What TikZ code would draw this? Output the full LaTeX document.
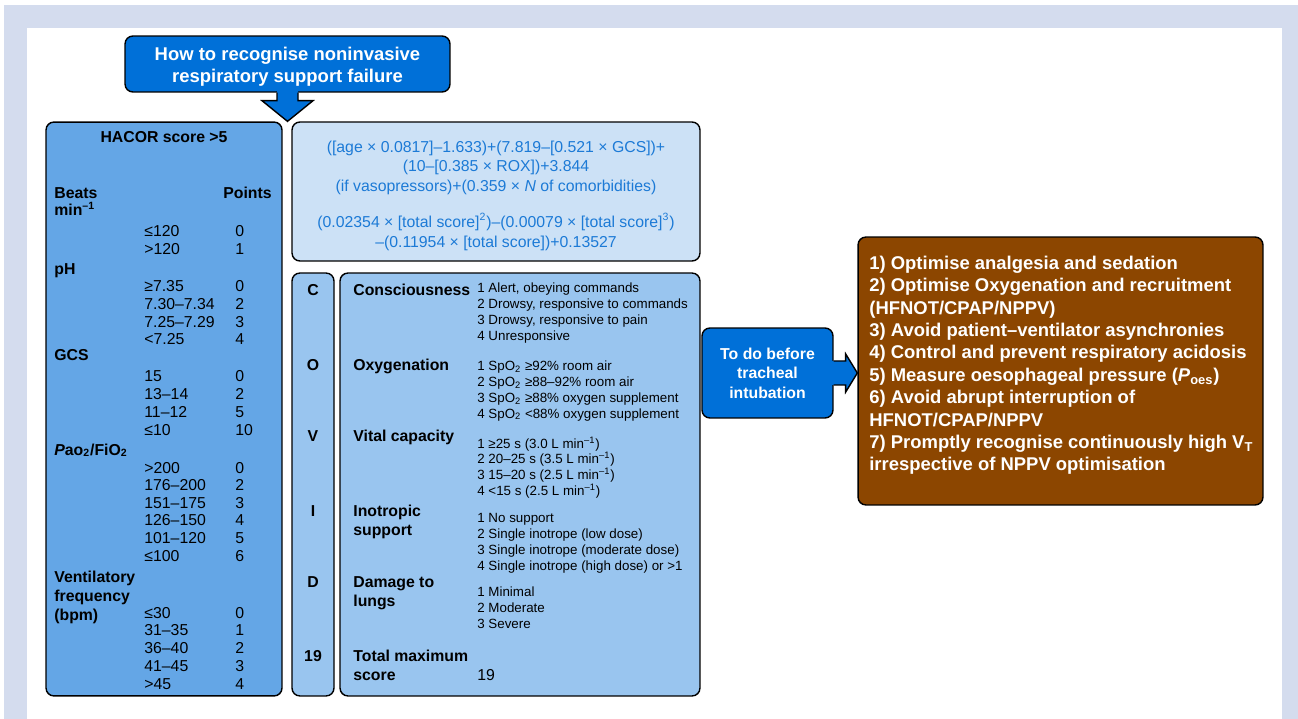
\documentclass[tikz,border=0pt]{standalone}
\usepackage{fontspec}
\setmainfont{Liberation Sans}
\usetikzlibrary{calc}

\definecolor{framebg}{RGB}{212,220,238}
\definecolor{deepblue}{RGB}{0,112,216}
\definecolor{hacorblue}{RGB}{100,166,230}
\definecolor{covidblue}{RGB}{153,197,239}
\definecolor{paleblue}{RGB}{204,225,246}
\definecolor{formulablue}{RGB}{28,122,214}
\definecolor{brownbox}{RGB}{140,70,0}

\begin{document}
\begin{tikzpicture}[x=0.02cm,y=-0.02cm,
  box node/.style={draw,thick,rounded corners=4.5pt,inner sep=0pt},
  head node/.style={anchor=base west,inner sep=0pt,font=\fontsize{9}{10.8}\selectfont\bfseries},
  value node/.style={anchor=base west,inner sep=0pt,font=\fontsize{9}{10.8}\selectfont},
  item node/.style={anchor=base west,inner sep=0pt,font=\fontsize{7.6}{9}\selectfont},
  letter node/.style={anchor=base,inner sep=0pt,font=\fontsize{9}{10.8}\selectfont\bfseries}]

\useasboundingbox (0,0) rectangle (1298,719);
\fill[framebg] (4,5) rectangle (1298,719);
\fill[white] (27,28) rectangle (1282,719);

% boxes
\node[box node,fill=deepblue,minimum width=6.5cm,minimum height=1.12cm] (title) at (287.5,64) {};
\node[box node,fill=hacorblue,minimum width=4.72cm,minimum height=11.48cm] (hacor) at (164,409) {};
\node[box node,fill=paleblue,minimum width=8.16cm,minimum height=2.78cm] (formula) at (496,191.5) {};
\node[box node,fill=covidblue,minimum width=0.84cm,minimum height=8.46cm] (letters) at (313,484.5) {};
\node[box node,fill=covidblue,minimum width=7.2cm,minimum height=8.46cm] (covid) at (520,484.5) {};
\node[box node,fill=deepblue,text=white,align=center,minimum width=2.62cm,minimum height=1.8cm,
  font=\fontsize{9}{11.1}\selectfont\bfseries] (todo) at (767.5,373)
  {To do before\\tracheal\\intubation};
\node[box node,fill=brownbox,minimum width=8.1cm,minimum height=5.36cm] (brown) at (1060.5,371) {};

% block arrows
\fill[deepblue,shift={(title.south)}] (-10.5,-2) -- (-10.5,8) -- (-25.5,8) -- (title.south |- hacor.north)
  -- (25.5,8) -- (10.5,8) -- (10.5,-2) -- cycle;
\draw[thick,line join=miter,shift={(title.south)}] (-10.5,0) -- (-10.5,8) -- (-25.5,8) -- (title.south |- hacor.north)
  -- (25.5,8) -- (10.5,8) -- (10.5,0);
\fill[deepblue,shift={(todo.east)}] (-2,-12) -- (12,-12) -- (12,-19) -- (brown.west |- todo.east)
  -- (12,19) -- (12,12) -- (-2,12) -- cycle;
\draw[thick,line join=miter,shift={(todo.east)}] (0,-12) -- (12,-12) -- (12,-19) -- (brown.west |- todo.east)
  -- (12,19) -- (12,12) -- (0,12);

% box texts
\node[align=center,inner sep=0pt,text=white,font=\fontsize{10.5}{12.5}\selectfont\bfseries] (titletext) at (287.5,67)
  {How to recognise noninvasive\\respiratory support failure};
\node[align=center,inner sep=0pt,text=formulablue,font=\fontsize{9}{11.1}\selectfont] (formulatext) at (496,195.5)
  {([age × 0.0817]–1.633)+(7.819–[0.521 × GCS])+\\(10–[0.385 × ROX])+3.844\\(if vasopressors)+(0.359 × \textit{N} of comorbidities)\\[9.7pt](0.02354 × [total score]\textsuperscript{2})–(0.00079 × [total score]\textsuperscript{3})\\–(0.11954 × [total score])+0.13527};

% HACOR score
\node[head node,anchor=base] (hacortitle) at (164,143) {HACOR score >5};
\node[head node] (beats) at (54,199) {Beats};
\node[head node] (minlbl) at (54,216) {min\textsuperscript{–1}};
\node[head node] (points) at (223,199) {Points};
\node[head node] (ph) at (54,275) {pH};
\node[head node] (gcs) at (54,361) {GCS};
\node[head node] (pao) at (54,455) {\textit{P}ao\textsubscript{2}/FiO\textsubscript{2}};
\node[head node] (vent) at (54,582) {Ventilatory};
\node[head node] (freq) at (54,601) {frequency};
\node[head node] (bpm) at (54,620) {(bpm)};

\foreach \v/\p [count=\i from 0] in {≤120/0,>120/1}
  {\node[value node] (hr\i) at (144,{237+18*\i}) {\v};
   \node[value node] (hrp\i) at (235,{237+18*\i}) {\p};}
\foreach \v/\p [count=\i from 0] in {≥7.35/0,7.30–7.34/2,7.25–7.29/3,<7.25/4}
  {\node[value node] (ph\i) at (144,{291.5+17.8*\i}) {\v};
   \node[value node] (php\i) at (235,{291.5+17.8*\i}) {\p};}
\foreach \v/\p [count=\i from 0] in {15/0,13–14/2,11–12/5,≤10/10}
  {\node[value node] (gcs\i) at (144,{381+18.1*\i}) {\v};
   \node[value node] (gcsp\i) at (235,{381+18.1*\i}) {\p};}
\foreach \v/\p [count=\i from 0] in {>200/0,176–200/2,151–175/3,126–150/4,101–120/5,≤100/6}
  {\node[value node] (pao\i) at (144,{473+17.6*\i}) {\v};
   \node[value node] (paop\i) at (235,{473+17.6*\i}) {\p};}
\foreach \v/\p [count=\i from 0] in {≤30/0,31–35/1,36–40/2,41–45/3,>45/4}
  {\node[value node] (vf\i) at (144,{618+17.75*\i}) {\v};
   \node[value node] (vfp\i) at (235,{618+17.75*\i}) {\p};}

% COVID score
\node[letter node] (lc) at (313,296) {C};
\node[letter node] (lo) at (313,371) {O};
\node[letter node] (lv) at (313,441) {V};
\node[letter node] (li) at (313,516) {I};
\node[letter node] (ld) at (313,587) {D};
\node[letter node] (l19) at (313,661) {19};

\node[head node] (consc) at (353,296) {Consciousness};
\node[head node] (oxy) at (353,371) {Oxygenation};
\node[head node] (vital) at (353,441) {Vital capacity};
\node[head node] (ino) at (353,516) {Inotropic};
\node[head node] (ino2) at (353,535) {support};
\node[head node] (dam) at (353,587) {Damage to};
\node[head node] (dam2) at (353,606) {lungs};
\node[head node] (total) at (353,661) {Total maximum};
\node[head node] (total2) at (353,680) {score};
\node[value node] (totalval) at (477,680) {19};

\foreach \t [count=\i from 0] in {{1 Alert, obeying commands},{2 Drowsy, responsive to commands},
    {3 Drowsy, responsive to pain},{4 Unresponsive}}
  \node[item node] (ci\i) at (477,{293+16*\i}) {\t};
\foreach \t [count=\i from 0] in {{1 SpO\textsubscript{2} ≥92\% room air},{2 SpO\textsubscript{2} ≥88–92\% room air},
    {3 SpO\textsubscript{2} ≥88\% oxygen supplement},{4 SpO\textsubscript{2} <88\% oxygen supplement}}
  \node[item node] (oi\i) at (477,{371+15.7*\i}) {\t};
\foreach \t [count=\i from 0] in {{1 ≥25 s (3.0 L min\textsuperscript{–1})},{2 20–25 s (3.5 L min\textsuperscript{–1})},
    {3 15–20 s (2.5 L min\textsuperscript{–1})},{4 <15 s (2.5 L min\textsuperscript{–1})}}
  \node[item node] (vi\i) at (477,{448+15.7*\i}) {\t};
\foreach \t [count=\i from 0] in {{1 No support},{2 Single inotrope (low dose)},
    {3 Single inotrope (moderate dose)},{4 Single inotrope (high dose) or >1}}
  \node[item node] (ii\i) at (477,{522+16*\i}) {\t};
\foreach \t [count=\i from 0] in {{1 Minimal},{2 Moderate},{3 Severe}}
  \node[item node] (di\i) at (477,{596.5+16.2*\i}) {\t};

% before intubation
\node[anchor=west,align=left,inner sep=0pt,text=white,font=\fontsize{10.5}{12.75}\selectfont\bfseries] (steps) at (869,365.4)
  {1) Optimise analgesia and sedation\\2) Optimise Oxygenation and recruitment\\(HFNOT/CPAP/NPPV)\\3) Avoid patient–ventilator asynchronies\\4) Control and prevent respiratory acidosis\\5) Measure oesophageal pressure (\textit{P}\textsubscript{oes})\\6) Avoid abrupt interruption of\\HFNOT/CPAP/NPPV\\7) Promptly recognise continuously high V\textsubscript{T}\\irrespective of NPPV optimisation};

\end{tikzpicture}
\end{document}
